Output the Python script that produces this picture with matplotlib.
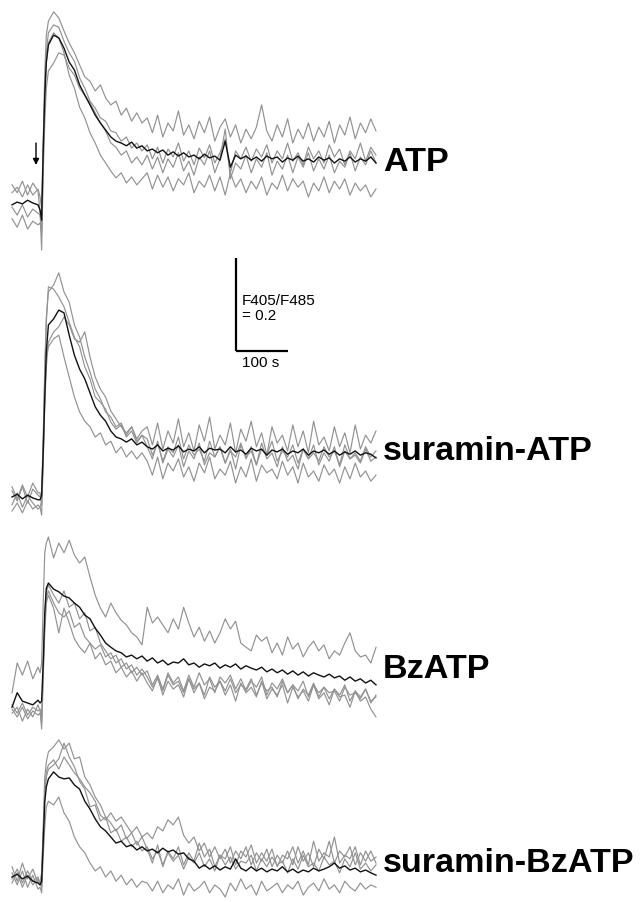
import numpy as np
import matplotlib
matplotlib.use("Agg")
import matplotlib.pyplot as plt

plt.rcParams['font.family'] = ['Liberation Sans', 'DejaVu Sans']

# time of each sample (s)
time_s = [0, 10, 20, 30, 40, 50, 54, 57, 60, 63, 66,
          70, 80, 90, 100, 110, 120, 130, 140, 150, 160, 170, 180, 190, 200,
          210, 220, 230, 240, 250, 260, 270, 280, 290, 300, 310, 320, 330, 340, 350,
          360, 370, 380, 390, 400, 410, 420, 430, 440, 450, 460, 470, 480, 490, 500,
          510, 520, 530, 540, 550, 560, 570, 580, 590, 600, 610, 620, 630, 640, 650,
          660, 670, 680, 690, 700]

# change of F405/F485 from baseline, in units of 0.001
atp_mean = [-4,2,-2,6,0,-4, -15,-37,114,232,303, 340, 361,355,333,303,286,254,232,211,189,172,157,142,133,129,123,131,118,123, 112,116,108,114,103,110,101,108,99,103, 95,105,97,101,92,133,77,103,95,101, 92,99,90,101,95,99,88,97,92,101, 90,95,88,99,92,97,86,95,90,99, 88,95,90,99,86]
atp_cell1 = [22,34,13,39,17,30, 13,-13,129,280,361, 391, 411,398,370,344,323,297,271,262,241,254,226,211,219,189,204,176,194,172, 183,151,189,142,172,155,198,146,168,138, 176,151,185,133,163,181,142,168,129,159, 138,163,211,155,133,168,142,181,129,159, 138,172,133,163,142,176,129,168,146,185, 138,172,151,181,155]
atp_cell2 = [-9,-26,-4,-30,-13,-22, -26,-47,108,237,323, 366, 383,378,348,323,305,269,247,219,204,183,176,155,151,133,142,118,129,112, 125,95,120,86,116,99,129,90,112,82, 118,97,125,86,108,138,65,112,95,120, 90,116,99,125,86,112,95,129,90,108, 82,120,95,112,86,125,99,116,82,112, 95,129,90,120,103]
atp_cell3 = [-34,-52,-26,-56,-39,-47, -43,-65,86,215,301, 344, 366,355,323,275,247,206,183,151,129,103,86,69,54,65,43,56,39,52, 65,30,60,34,56,26,52,39,65,22, 47,34,60,26,56,17,65,34,52,22, 47,30,56,17,43,30,60,26,52,34, 47,13,43,26,56,22,47,30,52,17, 43,26,39,13,30]
atp_cell4 = [39,22,47,17,43,26, -22,-101,65,172,247, 284, 301,323,318,290,275,247,232,215,194,172,155,129,120,103,112,86,99,82, 103,73,99,65,95,77,108,69,90,60, 99,82,112,65,95,159,52,86,73,103, 65,95,77,108,60,90,73,103,65,99, 77,108,69,95,73,103,65,90,77,108, 69,99,82,112,86]

sur_atp_mean = [0,6,-4,4,-2,-6, -6,4,97,215,312, 370, 383,402,396,348,305,275,254,224,194,176,163,142,129,125,118,125,112,118, 108,103,112,99,105,101,110,97,103,99, 108,95,105,101,103,95,108,97,101,92, 105,99,103,90,101,97,103,92,99,95, 103,90,99,95,101,92,99,90,97,92, 99,90,95,92,84]
sur_atp_cell1 = [13,-9,22,-13,17,4, 0,11,129,280,387, 441, 456,482,441,419,370,344,301,269,232,211,183,172,151,159,133,151,125,142, 151,112,159,103,142,116,168,108,138,99, 155,120,172,103,133,112,159,95,146,120, 163,108,138,90,151,116,133,99,155,108, 142,95,163,112,129,99,151,108,138,95, 155,103,133,116,142]
sur_atp_cell2 = [-17,9,-22,4,-13,-26, -22,-9,108,258,376, 452, 447,430,409,376,344,323,280,254,215,204,189,161,146,155,129,142,116,133, 108,82,120,73,103,86,112,65,99,82, 116,69,95,86,108,73,103,60,112,86, 99,69,116,82,95,65,108,77,90,60, 103,82,112,69,95,77,108,65,99,82, 90,73,103,77,86]
sur_atp_cell3 = [22,-4,26,0,30,9, 9,-17,86,215,301, 323, 340,348,301,258,215,183,163,151,129,138,112,120,95,108,86,99,82,95, 77,47,86,39,73,56,82,43,65,34, 73,52,86,39,60,47,77,30,65,43, 82,34,69,52,60,39,77,47,65,30, 73,43,56,34,69,47,60,30,65,39, 73,43,56,34,47]
sur_atp_cell4 = [-30,-13,-34,-9,-26,-17, -22,-39,75,194,280, 333, 355,366,387,370,340,333,355,301,258,232,215,185,168,151,138,151,120,133, 125,90,116,77,108,95,129,82,112,90, 103,77,120,86,108,73,99,86,116,82, 108,69,103,90,120,77,99,86,112,73, 103,82,95,77,108,86,99,69,112,82, 95,77,108,86,99]

bz_mean = [-9,22,4,0,-4,6, 0,4,86,194,247, 258, 245,239,230,226,215,206,189,181,161,146,129,120,112,108,99,103,95,101, 90,97,86,92,82,88,86,95,82,86, 77,84,80,86,75,82,77,84,73,80, 75,71,77,67,73,65,71,62,69,60, 67,58,65,60,56,62,54,58,49,56, 47,52,43,49,39]
bz_cell1 = [22,86,60,90,52,77, 65,86,215,323,344, 357, 312,344,323,350,318,301,314,271,232,204,185,215,194,178,168,151,142,125, 206,172,185,168,151,181,159,206,172,142, 163,133,155,129,151,181,159,176,129,120, 112,146,133,142,108,129,103,142,116,129, 99,120,133,112,125,95,112,103,129,151, 112,99,103,86,120]
bz_cell2 = [-13,-30,-9,-34,-17,-26, -22,-43,65,183,237, 254, 232,215,241,206,215,181,194,155,163,129,112,95,103,77,86,65,77,60, 69,39,60,30,65,43,56,26,60,34, 65,39,52,22,56,43,60,30,52,26, 47,34,56,17,43,30,52,22,39,26, 47,13,39,22,34,9,30,17,39,4, 26,13,30,0,17]
bz_cell3 = [-22,-9,-39,-13,-30,-4, -17,-56,54,151,215, 232, 204,151,204,172,138,120,108,129,95,108,82,90,65,77,56,69,47,65, 43,26,56,17,47,30,39,13,52,22, 43,9,34,26,47,17,39,4,43,22, 34,13,47,9,30,17,39,0,34,13, 26,4,39,9,22,-4,30,13,17,-9, 26,4,13,-13,-30]
bz_cell4 = [-4,-22,0,-26,-9,-17, -13,-30,75,172,226, 241, 215,194,185,198,163,172,142,129,116,125,99,108,86,95,73,82,60,73, 56,34,52,26,60,39,47,22,52,30, 43,17,56,34,47,26,52,22,39,30, 52,17,43,26,34,13,47,22,39,9, 30,17,43,13,34,22,26,4,34,17, 22,9,30,4,13]

sur_bz_mean = [0,6,-4,2,-9,-13, -17,-9,75,161,194, 211, 226,215,211,213,198,189,163,146,125,108,99,86,73,77,65,69,58,65, 56,60,52,62,54,58,49,52,39,34, 19,26,17,24,15,22,17,39,19,13, 22,13,19,11,17,13,22,11,17,9, 15,11,19,13,17,22,30,19,24,15, 19,11,15,9,4]
sur_bz_cell1 = [22,-9,30,-4,17,-13, -9,9,108,215,247, 269, 280,295,275,288,254,258,215,198,172,155,129,116,99,112,82,95,69,86, 60,30,69,22,56,39,65,26,52,34, 73,43,60,22,47,39,65,26,56,43, 69,30,52,34,60,22,47,39,65,30, 56,26,77,34,52,43,86,30,47,39, 65,26,56,34,43]
sur_bz_cell2 = [-13,9,-22,4,-17,-4, -13,-22,86,183,226, 241, 252,232,258,241,224,211,194,181,163,133,123,138,120,129,112,95,108,86, 95,82,108,99,123,112,129,90,73,86, 56,73,43,65,39,60,30,56,39,65, 26,52,34,60,22,47,30,56,26,65, 34,52,22,60,39,77,30,56,43,65, 26,52,34,56,30]
sur_bz_cell3 = [9,-17,13,-22,4,-26, -22,-34,43,108,151, 163, 155,172,138,120,86,65,52,30,13,22,0,13,-9,4,-17,-4,-22,-9, -13,-30,-9,-34,-17,-26,-4,-39,-13,-30, -22,-9,-34,-17,-26,-43,-13,-30,-4,-26, -17,-39,-9,-30,-22,-13,-34,-17,-26,-9, -39,-22,-13,-30,-4,-26,-17,-34,-9,-22, -30,-13,-26,-17,-22]
sur_bz_cell4 = [-4,17,-13,13,-9,0, -17,0,86,183,215, 232, 241,254,288,258,237,206,189,151,155,120,129,95,103,77,86,65,77,56, 65,39,56,26,52,34,47,17,43,30, 52,22,39,13,47,26,43,17,34,30, 47,13,39,22,43,26,34,9,39,17, 47,22,30,13,43,26,34,9,39,22, 52,17,30,13,26]

labels = ["ATP", "suramin-ATP", "BzATP", "suramin-BzATP"]
panels = [
    ([atp_cell1, atp_cell2, atp_cell3, atp_cell4], atp_mean),
    ([sur_atp_cell1, sur_atp_cell2, sur_atp_cell3, sur_atp_cell4], sur_atp_mean),
    ([bz_cell1, bz_cell2, bz_cell3, bz_cell4], bz_mean),
    ([sur_bz_cell1, sur_bz_cell2, sur_bz_cell3, sur_bz_cell4], sur_bz_mean),
]
UNIT = 0.001

# ---- layout (figure pixels -> data) ----
W, H = 644, 902
PX_PER_S = 52 / 100.0     # 100 s = 52 px
PX_PER_R = 465 / 1.0      # 0.2 ratio = 93 px
X0 = 12                   # pixel of t = 0

def tx(px):
    return (px - X0) / PX_PER_S

def ry(py):
    return -py / PX_PER_R

fig = plt.figure(figsize=(W / 100, H / 100), dpi=100)
ax = fig.add_axes([0, 0, 1, 1])
ax.set_xlim(tx(0), tx(W))
ax.set_ylim(ry(H), ry(0))
ax.axis('off')

baselines_px = [203, 497, 703, 877]
label_base_px = [171, 460, 678, 872]

t = np.array(time_s, dtype=float)
for (cells, mean), bpx, lab, lpx in zip(panels, baselines_px, labels, label_base_px):
    off = ry(bpx)
    for c in cells:
        n = min(len(t), len(c))
        ax.plot(t[:n], off + np.array(c[:n]) * UNIT, color='#929292', lw=0.85,
                solid_joinstyle='round')
    n = min(len(t), len(mean))
    ax.plot(t[:n], off + np.array(mean[:n]) * UNIT, color='#111111', lw=1.0,
            solid_joinstyle='round')
    ax.text(tx(383), ry(lpx), lab, fontsize=24.6, fontweight='bold',
            ha='left', va='baseline', color='black')

# stimulus arrow
ax.annotate('', xy=(tx(36), ry(165)), xytext=(tx(36), ry(143)),
            arrowprops=dict(arrowstyle='-|>', color='black', lw=1.0,
                            mutation_scale=9, shrinkA=0, shrinkB=0))

# scale bar
bar_x = tx(235.5)
bar_top = ry(258)
bar_bot = bar_top - 0.2
ax.plot([bar_x, bar_x], [bar_top, bar_bot], color='black', lw=1.6,
        solid_capstyle='butt')
ax.plot([bar_x, bar_x + 100], [bar_bot, bar_bot], color='black', lw=1.6,
        solid_capstyle='butt')
ax.text(tx(242), ry(305), "F405/F485", fontsize=11, ha='left', va='baseline')
ax.text(tx(242), ry(320), "= 0.2", fontsize=11, ha='left', va='baseline')
ax.text(tx(242), ry(367), "100 s", fontsize=11, ha='left', va='baseline')

fig.savefig("out.png", dpi=100)
